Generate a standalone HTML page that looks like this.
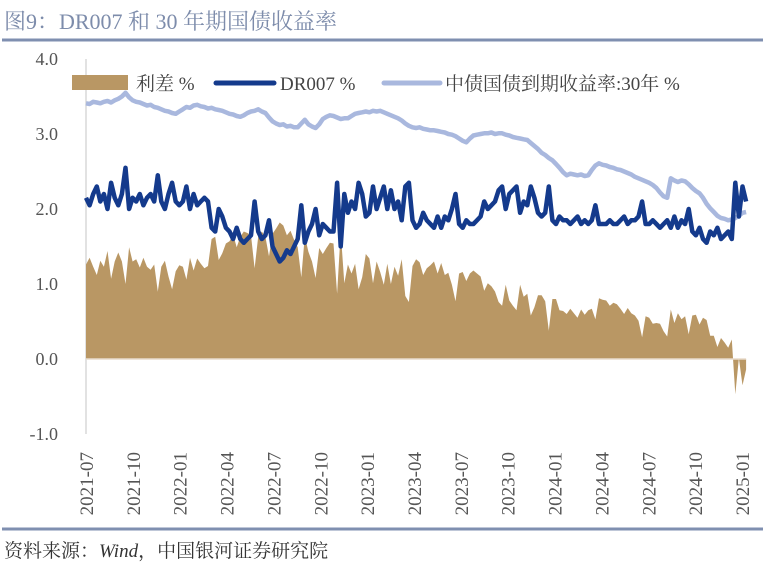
<!DOCTYPE html>
<html><head><meta charset="utf-8">
<style>
body{margin:0;background:#fff;width:784px;height:573px;overflow:hidden;font-family:"Liberation Serif","Noto Serif CJK SC",serif;}
</style></head>
<body>
<svg id="c" width="784" height="573" xmlns="http://www.w3.org/2000/svg">
<text x="4" y="29" font-size="22" fill="#7d8cab">图9：DR007 和 30 年期国债收益率</text>
<line x1="2" y1="40" x2="763" y2="40" stroke="#7f8fb0" stroke-width="3"/>
<line x1="2" y1="529" x2="763" y2="529" stroke="#7f8fb0" stroke-width="3"/>
<text x="4" y="557" font-size="19" fill="#333">资料来源：<tspan font-style="italic">Wind</tspan>，中国银河证券研究院</text>
<g id="plot"></g>
<g>
<rect x="72" y="75" width="56" height="15" fill="#b99764"/>
<text x="136" y="90" font-size="19" fill="#444">利差 %</text>
<line x1="216" y1="83" x2="274" y2="83" stroke="#143a8c" stroke-width="5" stroke-linecap="round"/>
<text x="280" y="90" font-size="19" fill="#444">DR007 %</text>
<line x1="384" y1="83" x2="440" y2="83" stroke="#a9b8de" stroke-width="5" stroke-linecap="round"/>
<text x="445" y="90" font-size="19" fill="#444">中债国债到期收益率:30年 %</text>
</g>
</svg>
<script>
const yTicks=[4.0,3.0,2.0,1.0,0.0,-1.0];
const xTicks=["2021-07","2021-10","2022-01","2022-04","2022-07","2022-10","2023-01","2023-04","2023-07","2023-10","2024-01","2024-04","2024-07","2024-10","2025-01"];
const dr007=[2.15,2.05,2.2,2.3, 2.1,2.2,2.0,2.35, 2.15,2.05,2.2,2.55,2.0, 2.15,2.1,2.2,2.05, 2.15,2.2,2.1,2.45, 2.1,2.0,2.2,2.35,2.1,
2.05,2.1,2.3,2.0, 2.2,2.05,2.1,2.15, 2.1,1.75,1.7,2.0,1.9, 1.75,1.7,1.6,1.75, 1.6,1.55,1.6,1.65,2.1, 1.7,1.6,1.65,1.85, 1.5,1.4,1.3,1.35, 1.45,1.4,1.5,1.6,2.05, 1.55,1.7,1.8,2.0, 1.65,1.8,1.75,1.7, 1.7,2.35,1.5,2.2, 1.95,2.1,2.0,2.35,2.2,
1.9,1.95,2.3,2.0, 2.15,2.3,2.0,2.25, 2.0,2.1,1.85,2.3,2.35, 1.85,1.75,1.8,1.95, 1.85,1.8,1.75,1.9, 1.75,1.9,1.85,2.0,2.2, 1.8,1.75,1.85,1.8, 1.8,1.85,1.9,2.1,2.0, 2.05,2.1,2.25,2.3, 2.0,2.2,2.25,2.3, 1.95,2.1,2.05,2.3,2.15, 1.95,1.9,1.95,2.3,
1.85,1.8,1.9,1.85, 1.85,1.8,1.85,1.9, 1.8,1.85,1.8,1.85,2.05, 1.8,1.8,1.8,1.85, 1.8,1.8,1.85,1.9, 1.8,1.85,1.85,1.9,2.1, 1.8,1.8,1.85,1.8, 1.75,1.8,1.85,1.75,1.9, 1.75,1.85,1.8,2.0, 1.7,1.65,1.75,1.6, 1.55,1.7,1.65,1.75,1.6, 1.65,1.7,1.6,2.35,
1.9,2.3,2.1];
const y30=[3.41,3.40,3.43,3.42,3.41,3.43,3.44,3.42,3.45,3.47,3.50,3.55,3.49,3.45,3.43,
3.42,3.40,3.38,3.39,3.36,3.35,3.33,3.31,3.30,3.28,3.27,3.30,3.33,3.36,3.35,3.38,3.39,
3.37,3.36,3.34,3.35,3.33,3.32,3.31,3.29,3.27,3.26,3.24,3.23,3.25,3.28,3.30,3.31,3.33,
3.30,3.28,3.22,3.17,3.14,3.12,3.13,3.10,3.11,3.09,3.09,3.14,3.19,3.13,3.10,3.08,
3.13,3.20,3.23,3.25,3.24,3.22,3.20,3.21,3.21,3.24,3.27,3.28,3.29,3.30,3.29,3.31,3.30,3.31,
3.29,3.27,3.25,3.23,3.21,3.18,3.14,3.11,3.09,3.08,3.09,3.07,3.06,3.05,3.05,3.04,3.03,3.02,3.00,2.99,
2.97,2.94,2.91,2.89,2.94,2.98,2.99,3.00,3.01,3.01,3.02,3.00,3.01,3.01,
2.99,2.98,2.96,2.95,2.94,2.93,2.92,2.88,2.84,2.80,2.75,2.72,2.68,2.65,2.60,2.55,2.49,2.45,
2.47,2.46,2.45,2.46,2.44,2.45,2.52,2.58,2.61,2.59,2.58,2.56,2.55,2.53,2.52,2.50,2.48,
2.46,2.43,2.41,2.39,2.37,2.35,2.32,2.28,2.22,2.17,2.15,2.41,2.38,2.36,2.38,2.37,
2.33,2.28,2.24,2.21,2.15,2.07,2.01,1.96,1.91,1.88,1.87,1.85,1.86,1.88,1.91,1.95,1.96];
const spread=y30.map((v,i)=>+(v-dr007[i]).toFixed(2));

const NS="http://www.w3.org/2000/svg";
const X0=86, XQ=46.86, Y0=359, YU=75;
function xIdx(i){return X0+i*3.5875;}
function yV(v){return Y0-v*YU;}
const plot=document.getElementById('plot');
function mk(tag,attrs){const e=document.createElementNS(NS,tag);for(const k in attrs)e.setAttribute(k,attrs[k]);plot.appendChild(e);return e;}

const ax=mk('line',{x1:X0,y1:yV(4),x2:X0,y2:yV(-1),stroke:'#d9d9d9','stroke-width':1.5});


yTicks.forEach(t=>{
  const tx=mk('text',{x:58,y:yV(t)+6,'font-size':18,fill:'#555','text-anchor':'end'});
  tx.textContent=t.toFixed(1);
  
  
});
xTicks.forEach((t,i)=>{
  const x=X0+i*XQ;
  const tx=mk('text',{x:0,y:0,'font-size':19,fill:'#555','text-anchor':'end',transform:`translate(${x+7},452) rotate(-90)`});
  tx.textContent=t;
  
  
});
let d=`M${xIdx(0)},${yV(0)}`;
spread.forEach((v,i)=>{d+=` L${xIdx(i).toFixed(1)},${yV(v).toFixed(1)}`;});
d+=` L${xIdx(spread.length-1)},${yV(0)} Z`;
const area=mk('path',{d:d,fill:'#b99764'});


const zl=mk('line',{x1:X0,y1:Y0,x2:xIdx(spread.length-1),y2:Y0,stroke:'#e8dccb','stroke-width':1.5});


function line(arr,col,name){
  const p=mk('polyline',{points:arr.map((v,i)=>xIdx(i).toFixed(1)+','+yV(v).toFixed(1)).join(' '),fill:'none',stroke:col,'stroke-width':4.5,'stroke-linejoin':'round'});
  
  
}
line(y30,'#a9b8de','line-30y-yield');
line(dr007,'#143a8c','line-dr007');
</script>
</body></html>
